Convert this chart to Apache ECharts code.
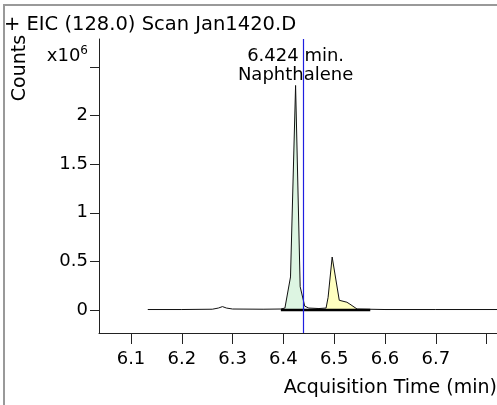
<!DOCTYPE html>
<html>
<head>
<meta charset="utf-8">
<script src="https://cdn.jsdelivr.net/npm/echarts@6/dist/echarts.min.js"></script>
<style>html,body{margin:0;padding:0;background:#fff}#c{width:497px;height:405px}</style>
</head>
<body>
<div id="c"></div>
<script>
// Chromatogram (EIC 128.0): retention time (min) and counts
const times  = [6.133, 6.20, 6.26, 6.272, 6.280, 6.288, 6.30, 6.36, 6.395, 6.403, 6.414, 6.424, 6.433, 6.442, 6.45, 6.47, 6.484, 6.488, 6.496, 6.510, 6.525, 6.531, 6.545, 6.60, 6.70, 6.83];
const counts = [5000, 5000, 8000, 20000, 35000, 20000, 10000, 8000, 10000, 20000, 340000, 2310000, 240000, 40000, 20000, 15000, 20000, 130000, 545000, 100000, 80000, 60000, 10000, 5000, 5000, 5000];
// Integrated peak ranges (min)
const peak1Range = [6.403, 6.442];
const peak2Range = [6.484, 6.545];
const baselineRange = [6.395, 6.571];
// Annotation
const apexTime = 6.424;
const apexCounts = 2310000;
const compoundName = 'Naphthalene';
const markerTime = 6.437;
// Ticks
const xTicks = [6.1, 6.2, 6.3, 6.4, 6.5, 6.6, 6.7, 6.8];
const xLabels = [6.1, 6.2, 6.3, 6.4, 6.5, 6.6, 6.7];
const yTicks = [0, 500000, 1000000, 1500000, 2000000, 2500000];
const titleText = '+ EIC (128.0) Scan Jan1420.D';
const xName = 'Acquisition Time (min)';
const yName = 'Counts';

const FONT = 'DejaVu Sans';
const pts = times.map((t, i) => [t, counts[i]]);
const inRange = r => pts.filter(p => p[0] >= r[0] - 1e-9 && p[0] <= r[1] + 1e-9);

const chart = echarts.init(document.getElementById('c'), null, {renderer: 'canvas'});
chart.setOption({
  animation: false,
  textStyle: {fontFamily: FONT},
  title: {text: titleText, left: -1, top: 10, textStyle: {fontFamily: FONT, fontSize: 19.5, fontWeight: 'normal', color: '#000'}},
  graphic: [
    {type: 'rect', shape: {x: 4, y: 5, width: 700, height: 600}, style: {fill: 'none', stroke: '#999', lineWidth: 2}, silent: true},
    {type: 'text', x: 20, y: 68, rotation: Math.PI / 2, style: {text: yName, fontFamily: FONT, fontSize: 19, fill: '#000', align: 'center', verticalAlign: 'middle'}}
  ],
  grid: {left: 99, right: 0, top: 39, bottom: 72, containLabel: false, outerBoundsMode: 'none'},
  xAxis: {
    type: 'value', min: 6.037, max: 6.8205,
    name: xName, nameLocation: 'end', nameGap: 0,
    nameTextStyle: {fontFamily: FONT, fontSize: 19, color: '#000', align: 'right', verticalAlign: 'top', padding: [46, 0, 0, 0]},
    axisLine: {onZero: false, lineStyle: {color: '#222', width: 1}},
    axisTick: {customValues: xTicks, length: 11, lineStyle: {color: '#222'}},
    axisLabel: {customValues: xLabels, formatter: v => v.toFixed(1), fontFamily: FONT, fontSize: 18, color: '#000', margin: 17},
    splitLine: {show: false}
  },
  yAxis: {
    type: 'value', min: -236600, max: 2788000,
    axisLine: {show: true, onZero: false, lineStyle: {color: '#222', width: 1}},
    axisTick: {show: true, customValues: yTicks, length: 9, lineStyle: {color: '#222'}},
    axisLabel: {
      customValues: yTicks, margin: 11, fontFamily: FONT, fontSize: 18, color: '#000',
      formatter: v => v === 2500000 ? '{x|x10}{s|6}\n{x| }' : String(v / 1e6),
      rich: {x: {fontFamily: FONT, fontSize: 18, lineHeight: 22, color: '#000'}, s: {fontFamily: FONT, fontSize: 12, verticalAlign: 'top', lineHeight: 22, color: '#000'}}
    },
    splitLine: {show: false}
  },
  series: [
    {type: 'line', data: inRange(peak1Range), symbol: 'none', lineStyle: {width: 0}, areaStyle: {color: '#ddf5e2', opacity: 1}, z: 1, silent: true},
    {type: 'line', data: inRange(peak2Range), symbol: 'none', lineStyle: {width: 0}, areaStyle: {color: '#ffffc0', opacity: 1}, z: 1, silent: true},
    {
      type: 'line', data: pts, symbol: 'none', lineStyle: {color: '#111', width: 1}, z: 2, silent: true,
      markLine: {symbol: 'none', silent: true, label: {show: false}, lineStyle: {color: '#1f1fe0', width: 1.2, type: 'solid', opacity: 1}, emphasis: {disabled: true}, data: [{xAxis: markerTime}]},
      markPoint: {symbol: 'circle', symbolSize: 0, silent: true, data: [{coord: [apexTime, apexCounts]}],
        label: {show: true, position: 'top', distance: 1, formatter: apexTime.toFixed(3) + ' min.\n' + compoundName, fontFamily: FONT, fontSize: 18, lineHeight: 19, color: '#000'}}
    },
    {type: 'line', data: [[baselineRange[0], 0], [baselineRange[1], 0]], symbol: 'none', lineStyle: {color: '#000', width: 2.5}, z: 3, silent: true}
  ]
});
</script>
</body>
</html>
